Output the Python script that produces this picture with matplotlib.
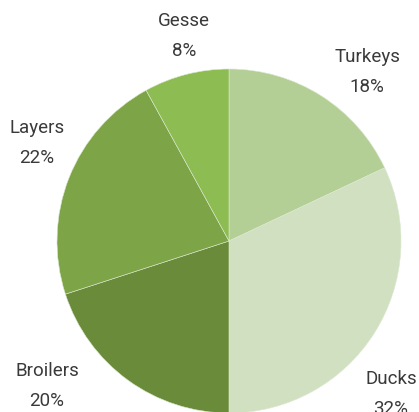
import matplotlib
matplotlib.use("Agg")
import matplotlib.pyplot as plt

categories = ["Turkeys", "Ducks", "Broilers", "Layers", "Gesse"]
values = [18, 32, 20, 22, 8]
colors = ["#b3cf96", "#d0e0c0", "#6a8c3a", "#7da548", "#8dbd52"]
# label anchor positions (pixel space, y up)
label_pos = [(367, 340), (391, 18), (47, 26), (37, 269), (184, 376)]

W, H = 419, 412
fig = plt.figure(figsize=(W / 100, H / 100), dpi=100)
ax = fig.add_axes([0, 0, 1, 1])

ax.pie(values, colors=colors, startangle=90, counterclock=False,
       center=(229, 171), radius=172, frame=True,
       wedgeprops=dict(edgecolor="#dce8d0", linewidth=0.4))
ax.set_xlim(0, W)
ax.set_ylim(0, H)
ax.set_aspect("equal")
ax.axis("off")

for cat, v, (x, y) in zip(categories, values, label_pos):
    ax.text(x, y, f"{cat}\n{v}%", ha="center", va="center",
            fontsize=13.5, family="Roboto", fontweight="normal",
            color="#3a3a3a", linespacing=1.8)

fig.savefig("out.png", dpi=100)
